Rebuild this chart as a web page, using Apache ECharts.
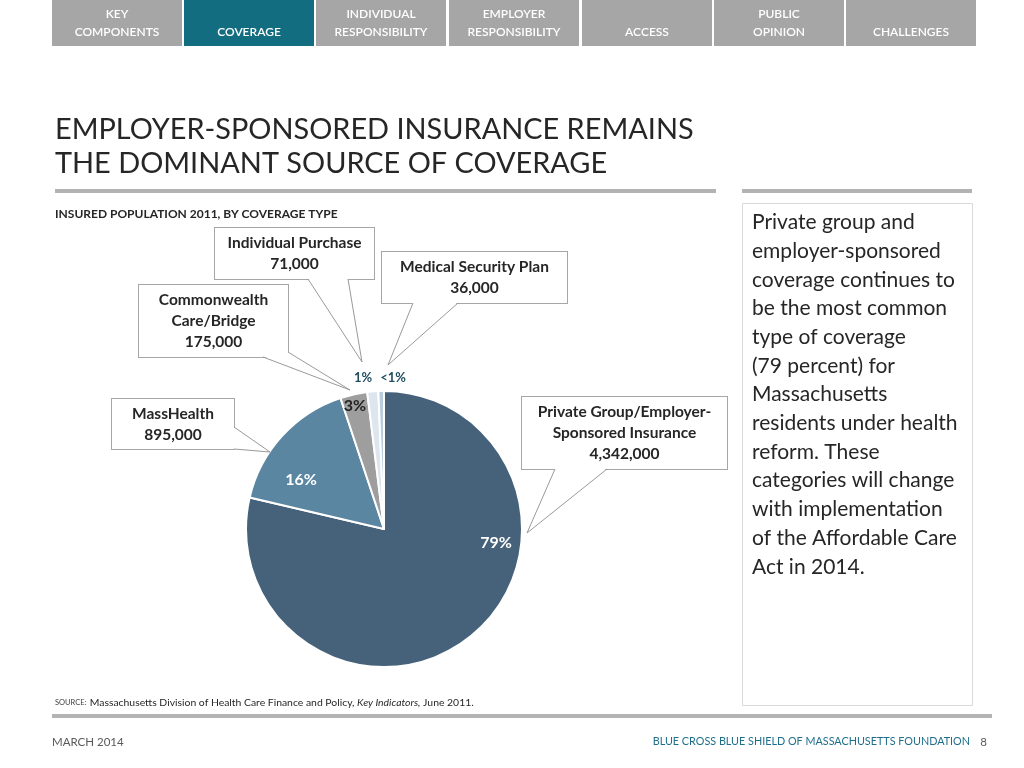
<!DOCTYPE html>
<html>
<head>
<meta charset="utf-8">
<script src="https://cdn.jsdelivr.net/npm/echarts@6/dist/echarts.min.js"></script>
<style>
html,body{margin:0;padding:0;background:#fff;}
#chart{width:1024px;height:768px;}
</style>
</head>
<body>
<div id="chart"></div>
<script>
// ---- data ----
const categories = ['Private Group/Employer-\nSponsored Insurance', 'MassHealth', 'Commonwealth\nCare/Bridge', 'Individual Purchase', 'Medical Security Plan'];
const values = [4342000, 895000, 175000, 71000, 36000];
const pctLabels = ['79%', '16%', '3%', '1%', '<1%'];
const navTabs = ['KEY\nCOMPONENTS', 'COVERAGE', 'INDIVIDUAL\nRESPONSIBILITY', 'EMPLOYER\nRESPONSIBILITY', 'ACCESS', 'PUBLIC\nOPINION', 'CHALLENGES'];
const titleLines = ['EMPLOYER-SPONSORED INSURANCE REMAINS', 'THE DOMINANT SOURCE OF COVERAGE'];
const subtitle = 'INSURED POPULATION 2011, BY COVERAGE TYPE';
const sideText = ['Private group and', 'employer-sponsored', 'coverage continues to', 'be the most common', 'type of coverage', '(79 percent) for', 'Massachusetts', 'residents under health', 'reform. These', 'categories will change', 'with implementation', 'of the Affordable Care', 'Act in 2014.'];

// ---- styles / layout ----
const FONT = 'Lato, "Open Sans", sans-serif';
const sliceColors = ['#46627a', '#5b86a2', '#9e9e9e', '#dde6ee', '#b9cddd'];
const pctColors = ['#ffffff', '#ffffff', '#222222', '#1f4e5f', '#1f4e5f'];
const pctPos = [[496, 543], [301, 480], [355, 406], [363, 378], [393, 378]];
const pctSize = [16, 16, 16, 13, 13];
const boxPos = [[624.5, 433], [173, 424], [213.5, 321], [294.5, 253.5], [474.5, 277.5]];
const boxW = [205, 122, 149, 159, 185];
const boxPad = [[4, 6, 5, 6], [4, 6, 4, 6], [4, 6, 5, 6], [6, 6, 3, 6], [6, 6, 3, 6]];
// callout pointer geometry: [base A, tip, base B] plus inward offset for base cover
const pointers = [
  { a: [555, 469], tip: [527, 533], b: [607, 469], inset: [0, -1] },
  { a: [234, 427], tip: [270, 452], b: [234, 449], inset: [-1, 0] },
  { a: [263, 357], tip: [350, 390], b: [288, 352], inset: [-1, -1] },
  { a: [308, 279], tip: [362, 362], b: [348, 279], inset: [0, -1] },
  { a: [413, 303], tip: [388, 365], b: [458, 303], inset: [0, -1] }
];

const chart = echarts.init(document.getElementById('chart'));

function fmt(v) { return v.toLocaleString('en-US'); }

const graphics = [];
// nav tabs
const tabX = [52, 184, 316, 449, 582, 714, 846];
navTabs.forEach((t, i) => {
  graphics.push({
    type: 'rect', shape: { x: tabX[i], y: 0, width: 130, height: 46 },
    style: { fill: i === 1 ? '#136d80' : '#a6a6a6' }
  });
  graphics.push({
    type: 'text', x: tabX[i] + 65, y: 41,
    style: { text: t, fill: '#fff', font: '600 12px ' + FONT, align: 'center', verticalAlign: 'bottom', lineHeight: 18 }
  });
});
// title
titleLines.forEach((t, i) => {
  graphics.push({
    type: 'text', x: 55, y: 130 + i * 34,
    style: { text: t, fill: '#262626', font: '400 28.9px ' + FONT, verticalAlign: 'middle' }
  });
});
graphics.push({ type: 'rect', shape: { x: 55, y: 189, width: 661, height: 4 }, style: { fill: '#b3b3b3' } });
graphics.push({ type: 'rect', shape: { x: 742, y: 189, width: 230, height: 4 }, style: { fill: '#b3b3b3' } });
graphics.push({
  type: 'text', x: 55, y: 214,
  style: { text: subtitle, fill: '#262626', font: 'bold 12px ' + FONT, verticalAlign: 'middle' }
});
// side box
graphics.push({ type: 'rect', shape: { x: 742.5, y: 203.5, width: 230, height: 502 }, style: { fill: 'none', stroke: '#d9d9d9', lineWidth: 1 } });
graphics.push({
  type: 'text', x: 752, y: 208,
  style: { text: sideText.join('\n'), fill: '#262626', font: '21px ' + FONT, lineHeight: 28.7 }
});
// source
graphics.push({
  type: 'text', x: 55, y: 703,
  style: {
    text: '{s|SOURCE:} {n|Massachusetts Division of Health Care Finance and Policy, }{i|Key Indicators,}{n| June 2011.}',
    verticalAlign: 'middle',
    rich: {
      s: { fontSize: 7.5, fontFamily: FONT, fill: '#404040' },
      n: { fontSize: 10.4, fontFamily: FONT, fill: '#262626' },
      i: { fontSize: 10.4, fontFamily: FONT, fontStyle: 'italic', fill: '#262626' }
    }
  }
});
graphics.push({ type: 'rect', shape: { x: 52, y: 714, width: 940, height: 4 }, style: { fill: '#b3b3b3' } });
graphics.push({
  type: 'text', x: 52, y: 742,
  style: { text: 'MARCH 2014', fill: '#595959', font: '11.5px ' + FONT, verticalAlign: 'middle' }
});
graphics.push({
  type: 'text', x: 970, y: 742,
  style: { text: 'BLUE CROSS BLUE SHIELD OF MASSACHUSETTS FOUNDATION', fill: '#1f6f8b', font: '10.8px ' + FONT, align: 'right', verticalAlign: 'middle' }
});
graphics.push({
  type: 'text', x: 987, y: 742,
  style: { text: '8', fill: '#595959', font: '11.5px ' + FONT, align: 'right', verticalAlign: 'middle' }
});
// callout pointers (wedges), drawn above the label boxes
pointers.forEach(p => {
  const a2 = [p.a[0] + p.inset[0], p.a[1] + p.inset[1]];
  const b2 = [p.b[0] + p.inset[0], p.b[1] + p.inset[1]];
  graphics.push({
    type: 'polygon', z: 10, silent: true,
    shape: { points: [a2, p.tip, b2] },
    style: { fill: '#fff', stroke: null }
  });
  graphics.push({
    type: 'polyline', z: 11, silent: true,
    shape: { points: [p.a, p.tip, p.b] },
    style: { fill: null, stroke: '#999999', lineWidth: 1 }
  });
});

const pieData = categories.map((c, i) => ({
  name: c, value: values[i],
  itemStyle: { color: sliceColors[i] },
  label: { color: pctColors[i] }
}));

const calloutData = categories.map((c, i) => ({
  name: c, value: values[i],
  label: { width: boxW[i] - 12, padding: boxPad[i] }
}));

chart.setOption({
  animation: false,
  graphic: graphics,
  series: [
    {
      type: 'pie', silent: true, center: [384, 529], radius: 138,
      startAngle: 90, clockwise: true, avoidLabelOverlap: false, z: 1,
      itemStyle: { color: 'rgba(0,0,0,0)', borderWidth: 0 },
      data: calloutData,
      label: {
        show: true, position: 'outside',
        formatter: p => p.name + '\n' + fmt(p.value),
        color: '#262626', fontFamily: FONT, fontWeight: 'bold', fontSize: 15.5, lineHeight: 21,
        align: 'center', backgroundColor: '#fff', borderColor: '#a6a6a6', borderWidth: 1
      },
      labelLine: { show: false },
      labelLayout: p => ({ x: boxPos[p.dataIndex][0], y: boxPos[p.dataIndex][1], align: 'center', verticalAlign: 'middle' })
    },
    {
      type: 'pie', silent: true, center: [384, 529], radius: 138,
      startAngle: 90, clockwise: true, avoidLabelOverlap: false, z: 2,
      itemStyle: { borderColor: '#fff', borderWidth: 2 },
      data: pieData,
      label: {
        show: true, position: 'inside',
        formatter: p => pctLabels[p.dataIndex],
        fontFamily: FONT, fontWeight: 'bold'
      },
      labelLine: { show: false },
      labelLayout: p => ({
        x: pctPos[p.dataIndex][0], y: pctPos[p.dataIndex][1], align: 'center', verticalAlign: 'middle',
        fontSize: pctSize[p.dataIndex]
      })
    }
  ]
});
</script>
</body>
</html>
